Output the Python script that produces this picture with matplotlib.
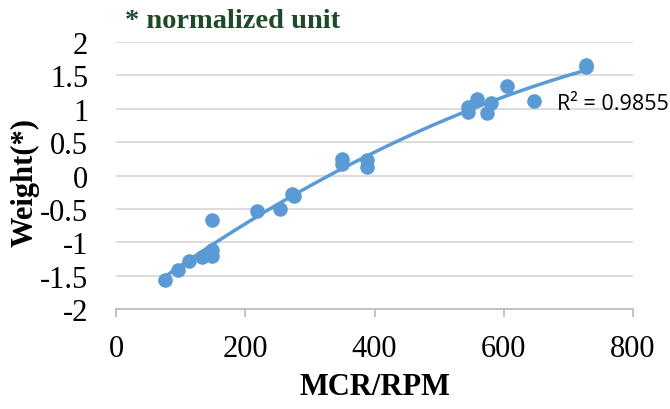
import matplotlib.pyplot as plt
import numpy as np

# data (MCR/RPM vs normalized weight)
mcr_rpm = [76, 96, 113, 133, 148, 148, 148, 218, 254, 272, 275,
           349, 349, 388, 388, 545, 545, 558, 574, 581, 605, 647, 727, 728]
weight = [-1.56, -1.41, -1.28, -1.22, -1.20, -1.11, -0.66, -0.53, -0.50, -0.27, -0.30,
          0.24, 0.17, 0.23, 0.12, 1.02, 0.95, 1.15, 0.94, 1.09, 1.34, 1.11, 1.62, 1.65]
x_ticks = [0, 200, 400, 600, 800]
y_ticks = [-2, -1.5, -1, -0.5, 0, 0.5, 1, 1.5, 2]
y_ticklabels = ['-2', '-1.5', '-1', '-0.5', '0', '0.5', '1', '1.5', '2']
r2_text = 'R² = 0.9855'

blue = '#5B9BD5'
serif = 'Liberation Serif'

fig = plt.figure(figsize=(6.7, 4.1), dpi=100)
ax = fig.add_axes([116 / 670, 1 - 310 / 410, 517 / 670, 267 / 410])

# scatter points
ax.scatter(mcr_rpm, weight, s=110, color=blue, zorder=3, linewidths=0)

# second order polynomial trendline
coef = np.polyfit(mcr_rpm, weight, 2)
xs = np.linspace(min(mcr_rpm), max(mcr_rpm), 200)
ax.plot(xs, np.polyval(coef, xs), color=blue, lw=2.5, zorder=2)

ax.text(683, 1.08, r2_text, fontsize=15.5, family='Open Sans', va='center', ha='left')

ax.set_xlim(0, 800)
ax.set_ylim(-2, 2)
ax.set_xticks(x_ticks)
ax.set_xticklabels([str(v) for v in x_ticks], fontsize=22, family=serif)
ax.set_yticks(y_ticks)
ax.set_yticklabels(y_ticklabels, fontsize=22, family=serif)

ax.grid(axis='y', color='#D9D9D9', lw=1.3)
ax.set_axisbelow(True)
for s in ['top', 'right', 'left']:
    ax.spines[s].set_visible(False)
ax.spines['bottom'].set_color('#BFBFBF')
ax.spines['bottom'].set_linewidth(1.3)
ax.tick_params(axis='y', length=0, pad=20)
ax.tick_params(axis='x', length=6, width=1.3, color='#BFBFBF', pad=12)

ax.set_xlabel('MCR/RPM', fontsize=22, family=serif, fontweight='bold')
ax.xaxis.set_label_coords(0.5, -0.29)
ax.xaxis.label.set_va('center')
ax.set_ylabel('Weight(*)', fontsize=22, family=serif, fontweight='bold')
ax.yaxis.set_label_coords(-0.176, 0.476)
ax.yaxis.label.set_va('center')

fig.text(125 / 670, 1 - 22 / 410, '* normalized unit', fontsize=20.5, family=serif,
         fontweight='bold', color='#1F4A2A', va='center', ha='left')

fig.savefig('out.png', dpi=100)
